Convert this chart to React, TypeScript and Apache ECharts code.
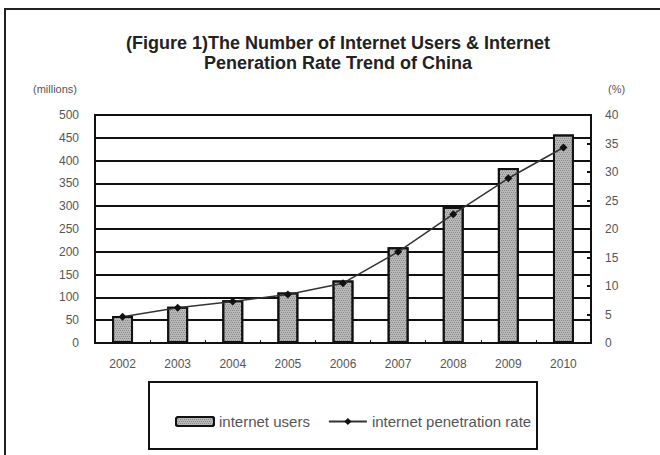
import React, { useEffect, useRef } from "react";
import * as echarts from "echarts";

const years = ["2002", "2003", "2004", "2005", "2006", "2007", "2008", "2009", "2010"];
const users = [59.1, 79.5, 94, 111, 137, 210, 298, 384, 457];
const rate = [4.6, 6.2, 7.3, 8.5, 10.5, 16.0, 22.6, 28.9, 34.3];
const titleLines = [
  "(Figure 1)The Number of Internet Users & Internet",
  "Peneration Rate Trend of China",
];
const seriesNames = ["internet users", "internet penetration rate"];

export default function App() {
  const ref = useRef<HTMLDivElement>(null);
  useEffect(() => {
    if (!ref.current) return;
    const chart = echarts.init(ref.current, null, { renderer: "svg" });
    const font = "'Liberation Sans', Arial, sans-serif";
    chart.setOption({
      animation: false,
      backgroundColor: "#fff",
      textStyle: { fontFamily: font },
      title: {
        text: titleLines.join("\n"),
        left: 333,
        textAlign: "center",
        top: 28,
        textStyle: { fontSize: 18, fontWeight: "bold", color: "#222", lineHeight: 20, fontFamily: font },
      },
      grid: {
        left: 95,
        right: 69,
        top: 115,
        bottom: 112,
        show: true,
        borderColor: "#111",
        borderWidth: 2,
        backgroundColor: "#fff",
      },
      legend: {
        left: 170,
        top: 409,
        itemWidth: 38,
        itemHeight: 9,
        itemGap: 18,
        textStyle: { fontSize: 15, color: "#555", fontFamily: font },
        data: seriesNames,
      },
      xAxis: {
        type: "category",
        data: years,
        axisLine: { show: true, lineStyle: { color: "#111", width: 2 } },
        axisTick: { show: true, inside: true, length: 3, lineStyle: { color: "#111" } },
        axisLabel: { fontSize: 12, color: "#555", margin: 15 },
      },
      yAxis: [
        {
          type: "value",
          min: 0,
          max: 500,
          interval: 50,
          axisLine: { show: false },
          axisTick: { show: false },
          axisLabel: { fontSize: 12, color: "#555", margin: 16 },
          splitLine: { show: true, lineStyle: { color: "#111", width: 2 } },
        },
        {
          type: "value",
          min: 0,
          max: 40,
          interval: 5,
          axisLine: { show: false },
          axisTick: { show: true, inside: true, length: 4, lineStyle: { color: "#111", width: 2 } },
          axisLabel: { fontSize: 12, color: "#555", margin: 14 },
          splitLine: { show: false },
        },
      ],
      series: [
        {
          name: seriesNames[0],
          type: "bar",
          data: users,
          barWidth: "38%",
          itemStyle: {
            color: "#b8b8b8",
            borderColor: "#111",
            borderWidth: 2,
            decal: {
              symbol: "rect",
              symbolSize: 1,
              dashArrayX: [[1, 1], [0, 1, 1, 0]],
              dashArrayY: [1, 1],
              color: "#8a8a8a",
            },
          },
        },
        {
          name: seriesNames[1],
          type: "line",
          yAxisIndex: 1,
          data: rate,
          symbol: "diamond",
          symbolSize: 8,
          lineStyle: { color: "#333", width: 1.5 },
          itemStyle: { color: "#111" },
        },
      ],
      graphic: [
        {
          type: "rect",
          shape: { x: 5, y: 9, width: 665, height: 460 },
          style: { fill: "none", stroke: "#222", lineWidth: 2 },
          silent: true,
        },
        {
          type: "rect",
          shape: { x: 149, y: 382, width: 388, height: 67 },
          style: { fill: "none", stroke: "#111", lineWidth: 2 },
          silent: true,
        },
        {
          type: "text",
          x: 33,
          y: 83,
          style: { text: "(millions)", fontSize: 11, fill: "#555", fontFamily: font },
        },
        {
          type: "text",
          x: 608,
          y: 83,
          style: { text: "(%)", fontSize: 11, fill: "#555", fontFamily: font },
        },
      ],
    });
    return () => chart.dispose();
  }, []);
  return (
    <div
      ref={ref}
      style={{ position: "absolute", left: 0, top: 0, width: 660, height: 455, overflow: "hidden" }}
    />
  );
}
